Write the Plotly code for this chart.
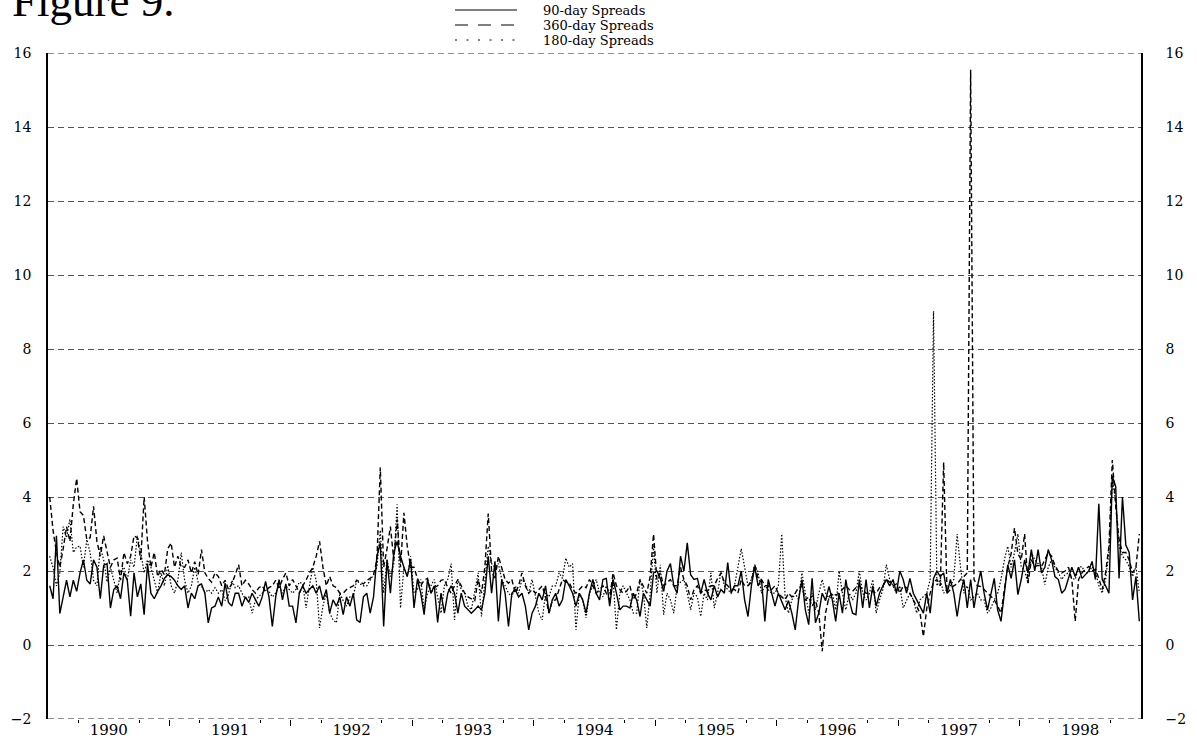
import plotly.graph_objects as go

# ---------------- data ----------------
years = list(range(1990, 1999))
year_labels = [str(y) for y in years]
points_per_year = 36
y_ticks = list(range(-2, 17, 2))

spread_90 = [
    # 1990
    1.6, 1.25, 2.95, 0.85, 1.3, 1.75, 1.3, 1.75, 1.45, 1.95, 2.3, 1.75, 1.65, 2.3, 2.1, 1.25, 2.15, 2.2,
    1.0, 1.5, 1.6, 1.25, 1.95, 1.75, 0.78, 1.95, 1.3, 1.65, 0.82, 2.2, 1.4, 1.25, 1.45, 1.6, 1.8, 1.9,
    # 1991
    1.85, 1.75, 1.6, 1.5, 1.6, 1.0, 1.4, 1.25, 1.6, 1.65, 1.4, 0.6, 1.0, 1.05, 1.3, 1.05, 1.67, 1.15,
    1.05, 1.4, 1.4, 1.05, 1.3, 1.15, 1.4, 1.22, 1.05, 1.3, 1.72, 1.3, 0.5, 1.3, 1.77, 1.22, 1.65, 1.05,
    # 1992
    1.05, 0.6, 1.4, 1.6, 1.4, 1.5, 1.6, 1.4, 1.6, 1.22, 1.5, 0.86, 1.22, 1.05, 1.3, 0.82, 1.3, 1.05,
    1.4, 0.68, 0.61, 1.3, 1.4, 0.86, 1.3, 2.4, 2.76, 0.5, 2.3, 1.4, 2.5, 2.8, 2.4, 2.1, 1.85, 2.3,
    # 1993
    1.0, 1.77, 1.4, 0.82, 1.77, 1.4, 1.6, 0.61, 1.4, 0.86, 1.4, 1.6, 1.4, 0.86, 1.4, 1.05, 0.95, 0.86,
    0.95, 1.05, 0.95, 1.4, 2.4, 1.4, 2.26, 0.64, 1.77, 1.4, 0.5, 1.4, 1.5, 1.3, 1.4, 1.05, 0.41, 0.86,
    # 1994
    1.05, 1.4, 1.22, 1.6, 0.86, 1.22, 1.4, 1.05, 1.22, 1.77, 1.6, 1.4, 1.05, 1.4, 1.22, 0.86, 1.4, 1.77,
    1.4, 1.22, 1.77, 1.8, 1.05, 1.77, 1.4, 0.95, 1.05, 1.05, 1.0, 1.4, 1.22, 0.77, 1.4, 1.22, 1.05, 1.95,
    # 1995
    2.0, 1.8, 1.45, 2.0, 2.2, 1.6, 1.4, 2.4, 2.0, 2.76, 1.9, 1.77, 1.8, 1.4, 1.77, 1.4, 1.22, 1.6,
    1.3, 1.5, 1.4, 2.23, 1.4, 1.6, 1.6, 2.0, 1.22, 0.77, 1.6, 2.12, 1.6, 1.77, 0.64, 1.77, 1.4, 1.05,
    # 1996
    1.4, 1.15, 0.95, 1.2, 0.86, 0.41, 1.22, 1.77, 0.95, 0.55, 1.8, 0.6, 0.86, 1.4, 1.2, 1.58, 1.22, 0.64,
    1.4, 0.86, 1.77, 1.22, 0.86, 0.82, 1.77, 1.0, 1.77, 1.0, 1.6, 1.05, 1.4, 1.6, 1.77, 1.6, 1.77, 1.4,
    # 1997
    2.0, 1.77, 1.4, 1.8, 1.4, 1.22, 1.05, 0.86, 1.4, 0.86, 1.8, 2.0, 1.85, 1.95, 1.4, 1.77, 1.4, 0.77,
    1.4, 1.77, 1.0, 1.77, 1.0, 1.58, 2.0, 1.4, 0.95, 1.4, 1.8, 0.95, 0.64, 1.4, 2.17, 1.8, 2.3, 1.36,
    # 1998
    1.77, 2.3, 1.95, 2.58, 2.0, 2.58, 1.95, 2.1, 2.58, 2.3, 1.85, 1.77, 1.4, 1.5, 1.77, 2.1, 1.85, 2.1,
    1.8, 1.9, 2.0, 2.26, 1.77, 3.82, 1.77, 1.6, 1.4, 4.56, 4.29, 1.8, 4.0, 2.7, 2.5, 1.22, 1.85, 0.64,
]

spread_360 = [
    # 1990
    4.0, 3.1, 2.5, 2.1, 2.6, 3.2, 2.8, 3.8, 4.5, 3.6, 3.5, 2.85, 2.9, 3.75, 2.8, 2.4, 2.95, 2.5,
    2.1, 2.3, 2.35, 1.75, 2.5, 2.2, 2.4, 2.95, 2.9, 2.3, 4.0, 2.8, 2.1, 2.5, 1.85, 2.05, 1.9, 2.6,
    # 1991
    2.76, 2.1, 2.4, 2.1, 2.1, 2.3, 1.95, 2.25, 1.9, 2.58, 1.95, 1.8, 1.7, 1.95, 1.85, 1.6, 1.75, 1.5,
    1.65, 1.9, 2.17, 1.6, 1.75, 1.65, 1.5, 1.4, 1.55, 1.6, 1.45, 1.55, 1.6, 1.75, 1.55, 1.77, 1.95, 1.6,
    # 1992
    1.77, 1.6, 1.4, 1.6, 1.75, 1.95, 2.1, 2.4, 2.8, 2.1, 1.6, 1.85, 1.6, 1.55, 1.4, 1.4, 1.5, 1.55,
    1.6, 1.75, 1.7, 1.65, 1.75, 1.8, 1.9, 2.3, 4.8, 2.1, 2.6, 3.2, 2.3, 3.4, 2.1, 3.57, 2.67, 2.1,
    # 1993
    2.1, 1.8, 1.6, 1.75, 1.8, 1.4, 1.55, 1.6, 1.75, 1.77, 1.55, 1.4, 1.6, 1.77, 1.6, 1.4, 1.3, 1.25,
    1.2, 1.77, 1.4, 2.1, 3.55, 2.0, 1.77, 2.4, 2.1, 1.77, 1.67, 1.77, 1.4, 1.6, 1.95, 1.6, 1.4, 1.5,
    # 1994
    1.4, 1.5, 1.6, 1.3, 0.86, 1.2, 1.22, 1.5, 1.77, 1.7, 1.68, 1.5, 1.4, 1.5, 1.6, 1.55, 1.77, 1.6,
    1.4, 1.5, 1.6, 1.4, 1.22, 1.95, 1.6, 1.5, 1.4, 1.45, 1.6, 1.22, 1.4, 1.77, 1.6, 1.4, 1.85, 3.0,
    # 1995
    1.77, 1.95, 1.6, 1.7, 1.77, 1.6, 1.6, 2.1, 1.77, 1.6, 1.22, 1.5, 1.6, 1.4, 1.5, 1.45, 1.6, 1.6,
    1.8, 1.95, 1.7, 1.6, 1.5, 1.5, 1.4, 1.77, 1.6, 1.6, 1.7, 2.17, 1.8, 1.77, 1.6, 1.6, 1.5, 1.6,
    # 1996
    1.4, 1.3, 1.22, 1.4, 1.3, 1.4, 1.55, 1.6, 1.22, 1.3, 1.05, 1.2, 0.86, -0.17, 0.86, 1.3, 1.4, 1.35,
    1.4, 1.5, 1.6, 1.5, 1.45, 1.55, 1.6, 1.5, 1.4, 1.4, 1.45, 1.4, 1.55, 1.6, 1.77, 1.7, 1.6, 1.65,
    # 1997
    1.4, 1.6, 1.55, 1.4, 1.22, 1.05, 0.86, 0.23, 1.0, 1.4, 1.7, 1.77, 1.6, 4.94, 1.4, 1.5, 1.6, 1.65,
    1.77, 1.85, 1.95, 15.55, 1.77, 1.6, 1.58, 1.5, 1.4, 1.3, 1.22, 1.05, 0.86, 1.5, 2.1, 2.47, 3.16, 2.47,
    # 1998
    2.3, 3.0, 1.67, 2.3, 2.12, 2.15, 2.12, 2.3, 2.5, 2.4, 2.15, 2.0, 1.95, 2.0, 2.1, 1.77, 0.64, 1.77,
    1.95, 2.05, 2.12, 2.0, 2.05, 1.8, 1.5, 1.95, 2.67, 5.0, 3.75, 2.85, 2.5, 2.5, 2.3, 1.95, 2.1, 3.0,
]

spread_180 = [
    # 1990
    2.4, 2.1, 1.6, 1.95, 3.2, 2.9, 3.4, 2.5, 2.65, 2.67, 2.1, 2.85, 2.5, 1.75, 1.6, 2.65, 2.3, 1.7,
    2.1, 1.75, 1.4, 2.0, 2.1, 1.75, 2.3, 2.1, 2.95, 2.5, 1.95, 2.3, 2.1, 1.75, 1.4, 1.95, 1.6, 2.15,
    # 1991
    1.6, 1.4, 1.75, 2.5, 1.75, 1.4, 1.6, 2.1, 1.7, 1.6, 1.4, 1.5, 1.4, 1.55, 1.4, 1.5, 1.2, 1.35,
    1.75, 1.55, 1.6, 1.4, 1.25, 1.3, 0.86, 1.22, 1.3, 1.4, 1.5, 1.45, 1.3, 1.4, 1.6, 1.4, 1.6, 1.5,
    # 1992
    1.4, 1.5, 1.7, 1.65, 1.0, 1.6, 2.1, 1.75, 0.46, 1.05, 1.4, 0.86, 0.68, 0.6, 1.4, 1.2, 1.05, 1.3,
    1.3, 1.75, 1.65, 1.6, 1.6, 1.75, 1.9, 2.1, 3.1, 1.4, 2.3, 1.85, 2.2, 3.8, 1.0, 2.1, 1.85, 2.4,
    # 1993
    1.4, 1.5, 1.77, 0.95, 1.4, 1.6, 1.77, 1.3, 0.86, 1.6, 1.77, 2.2, 0.68, 1.77, 1.5, 1.4, 1.05, 0.95,
    1.4, 1.95, 0.77, 1.77, 2.67, 2.2, 2.1, 2.2, 1.77, 1.6, 1.4, 1.3, 1.6, 1.4, 1.77, 1.67, 1.4, 1.77,
    # 1994
    1.3, 0.86, 0.68, 1.4, 1.3, 1.6, 1.6, 1.95, 1.8, 2.35, 2.1, 2.2, 0.41, 1.4, 1.22, 0.73, 1.4, 1.6,
    1.77, 1.4, 1.3, 1.6, 1.4, 1.77, 0.41, 1.4, 1.6, 1.4, 1.22, 0.86, 0.86, 1.77, 1.4, 0.46, 1.4, 2.67,
    # 1995
    1.4, 2.17, 0.82, 1.4, 1.22, 0.86, 1.6, 1.7, 1.77, 1.4, 0.95, 1.4, 1.3, 0.77, 1.4, 1.22, 1.95, 1.0,
    1.4, 2.0, 1.6, 1.5, 1.4, 1.6, 2.1, 2.6, 2.1, 1.6, 1.77, 2.17, 1.95, 1.4, 1.6, 1.5, 1.4, 1.4,
    # 1996
    1.6, 3.0, 1.3, 0.86, 1.22, 1.4, 1.22, 1.95, 1.4, 0.86, 1.4, 0.95, 1.4, 1.77, 1.4, 1.22, 1.4, 0.95,
    2.0, 1.4, 0.95, 1.4, 1.22, 1.4, 2.0, 1.4, 1.22, 1.4, 1.77, 0.86, 1.22, 1.5, 2.17, 1.77, 1.6, 1.4,
    # 1997
    1.6, 1.0, 1.2, 1.4, 1.22, 0.86, 1.22, 1.3, 1.4, 1.77, 9.02, 1.6, 1.77, 1.4, 1.5, 1.6, 1.77, 3.0,
    2.1, 1.4, 1.6, 1.22, 1.3, 1.4, 1.22, 1.22, 0.86, 1.0, 1.22, 1.4, 1.77, 2.3, 2.67, 2.1, 2.5, 3.0,
    # 1998
    2.12, 2.0, 1.67, 2.5, 2.3, 2.2, 2.1, 1.63, 2.1, 2.3, 2.1, 1.95, 1.77, 1.9, 1.95, 1.8, 1.77, 2.1,
    2.12, 1.95, 1.95, 2.12, 2.0, 1.6, 1.4, 1.77, 2.5, 4.47, 3.9, 2.67, 2.4, 2.3, 2.12, 1.85, 2.12, 1.4,
]

series = [
    ("180-day Spreads", spread_180, "1.5px,1.8px", 1.2),
    ("360-day Spreads", spread_360, "5px,3px", 1.4),
    ("90-day Spreads", spread_90, "solid", 1.4),
]
legend_order = [("90-day Spreads", "solid"), ("360-day Spreads", "13px,10px"), ("180-day Spreads", "2px,9.5px")]

# ---------------- figure ----------------
W, H = 1197, 740
ML, MR, MT, MB = 48, 56, 53, 21
PW, PH = W - ML - MR, H - MT - MB


def px_to_paper_x(px):
    return (px - ML) / PW


def px_to_paper_y(py):
    return (H - MB - py) / PH


def x_for(values):
    return [years[0] + (i + 0.5) / points_per_year for i in range(len(values))]


fig = go.Figure()
for name, vals, dash, width in series:
    fig.add_trace(go.Scatter(
        x=x_for(vals), y=vals, mode="lines", name=name,
        line=dict(color="black", width=width, dash=dash),
        showlegend=False, hoverinfo="x+y+name",
    ))

x0, x1 = years[0], years[-1] + 1
# helper trace so the secondary (tick-only / right) axes are drawn
fig.add_trace(go.Scatter(x=[x0, x1], y=[None, None], xaxis="x2", yaxis="y2",
                         mode="lines", showlegend=False, hoverinfo="skip"))

quarters = []
for y in years:
    quarters += [y + 0.25, y + 0.75]

tick_font = dict(family="DejaVu Serif", size=14, color="black")

fig.update_layout(
    width=W, height=H,
    margin=dict(l=ML, r=MR, t=MT, b=MB, autoexpand=False),
    paper_bgcolor="white", plot_bgcolor="white",
    showlegend=False,
    xaxis=dict(
        range=[x0, x1], tickmode="array", tickvals=[y + 0.5 for y in years], ticktext=year_labels,
        ticks="", showgrid=False, showline=False, zeroline=False, automargin=False,
        tickfont=dict(family="DejaVu Serif", size=15, color="black"), ticklabelstandoff=0,
    ),
    xaxis2=dict(
        overlaying="x", anchor="y", side="bottom", range=[x0, x1], automargin=False,
        tickmode="array", tickvals=years[1:], ticks="outside", ticklen=6, tickwidth=1, tickcolor="black",
        showticklabels=False, showgrid=False, showline=False, zeroline=False,
        minor=dict(tickmode="array", tickvals=quarters, ticks="outside", ticklen=3,
                   tickwidth=1, tickcolor="black", showgrid=False),
    ),
    yaxis=dict(
        range=[-2, 16], tickmode="array", tickvals=y_ticks, automargin=False,
        showgrid=True, gridcolor="#555555", griddash="6px,4px", gridwidth=1,
        showline=True, linecolor="black", linewidth=1.5, ticks="", zeroline=False,
        tickfont=tick_font, ticklabelstandoff=12,
    ),
    yaxis2=dict(
        overlaying="y", side="right", anchor="x", range=[-2, 16], tickmode="array", tickvals=y_ticks,
        showgrid=False, showline=True, linecolor="black", linewidth=1.5, ticks="", zeroline=False,
        automargin=False, tickfont=tick_font, ticklabelstandoff=20,
    ),
)

# dashed grid lines on the frame edges (plotly skips grid lines at the range ends)
for val in (y_ticks[0], y_ticks[-1]):
    fig.add_shape(type="line", xref="paper", yref="y", x0=0, x1=1, y0=val, y1=val,
                  line=dict(color="#222222", width=1, dash="6px,4px"), layer="below")

# legend drawn as a compact three-line key above the plot
legend_rows_py = [10, 25, 40]
for (label, dash), py in zip(legend_order, legend_rows_py):
    fig.add_shape(type="line", xref="paper", yref="paper",
                  x0=px_to_paper_x(455), x1=px_to_paper_x(517),
                  y0=px_to_paper_y(py), y1=px_to_paper_y(py),
                  line=dict(color="black", width=1, dash=dash))
    fig.add_annotation(text=label, xref="paper", yref="paper",
                       x=px_to_paper_x(542), y=px_to_paper_y(py),
                       xanchor="left", yanchor="middle", showarrow=False, borderpad=0,
                       font=dict(family="DejaVu Serif", size=13, color="black"))

fig.add_annotation(text="Figure 9.", xref="paper", yref="paper",
                   x=px_to_paper_x(10), y=px_to_paper_y(28.5),
                   xanchor="left", yanchor="bottom", showarrow=False,
                   font=dict(family="Liberation Serif", size=45, color="black"))

fig.write_html("out.html", config={"displayModeBar": False},
               post_script="document.body.style.margin='0px';")
